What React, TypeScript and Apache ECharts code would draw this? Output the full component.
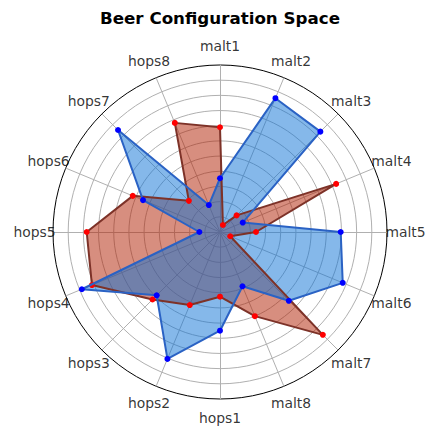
import React, { useEffect, useRef } from "react";
import * as echarts from "echarts";

const axisNames = [
  "malt1", "malt2", "malt3", "malt4", "malt5", "malt6", "malt7", "malt8",
  "hops1", "hops2", "hops3", "hops4", "hops5", "hops6", "hops7", "hops8",
];
const blueValues = [3.54, 9.54, 9.35, 1.62, 7.95, 8.75, 6.41, 3.87, 6.5, 9.05, 5.9, 9.85, 1.36, 5.49, 9.5, 1.92];
const redValues = [6.9, 0.5, 1.55, 8.28, 2.37, 0.73, 9.58, 6.0, 4.26, 5.21, 6.29, 9.13, 8.78, 6.22, 2.9, 7.78];
const radialMax = 11;
const labelRadius = 12.22;
const titleText = "Beer Configuration Space";

const FONT = "DejaVu Sans";

export default function App() {
  const ref = useRef<HTMLDivElement>(null);
  useEffect(() => {
    if (!ref.current) return;
    const chart = echarts.init(ref.current, undefined, { renderer: "svg" });
    // radar goes counter-clockwise: reorder so the data runs clockwise
    const order = [0, ...Array.from({ length: axisNames.length - 1 }, (_, k) => axisNames.length - 1 - k)];
    const gridColors = Array.from({ length: radialMax + 1 }, (_, i) => (i === radialMax ? "#000000" : "#b0b0b0"));
    const redData = order.map((i) => redValues[i]);
    const blueData = order.map((i) => blueValues[i]);
    chart.setOption({
      animation: false,
      title: {
        text: titleText,
        left: "center",
        top: 4,
        textStyle: { fontFamily: FONT, fontWeight: "bold", fontSize: 16.7, color: "#000" },
      },
      radar: {
        center: [220, 232],
        radius: 167,
        startAngle: 90,
        shape: "circle",
        splitNumber: radialMax,
        axisName: { show: false },
        axisLine: { lineStyle: { color: "#b0b0b0", width: 1 } },
        axisTick: { show: false },
        axisLabel: { show: false },
        splitLine: { lineStyle: { color: gridColors, width: 1 } },
        splitArea: { show: false },
        indicator: order.map((i) => ({ name: axisNames[i], min: 0, max: radialMax })),
      },
      polar: { center: [220, 232], radius: 167 },
      angleAxis: {
        type: "category",
        data: axisNames,
        boundaryGap: false,
        startAngle: 90,
        clockwise: true,
        show: false,
      },
      radiusAxis: { type: "value", min: 0, max: radialMax, show: false },
      series: [
        {
          type: "radar",
          symbol: "none",
          lineStyle: { width: 0, opacity: 0 },
          areaStyle: { color: "rgba(175,30,0,0.5)", opacity: 1 },
          data: [{ value: redData, name: "redArea" }],
          z: 2,
        },
        {
          type: "radar",
          symbol: "none",
          lineStyle: { width: 0, opacity: 0 },
          areaStyle: { color: "rgba(11,113,213,0.5)", opacity: 1 },
          data: [{ value: blueData, name: "blueArea" }],
          z: 3,
        },
        {
          type: "radar",
          symbol: "circle",
          symbolSize: 6,
          itemStyle: { color: "#ff0000" },
          lineStyle: { color: "#7d3228", width: 2 },
          data: [{ value: redData, name: "red" }],
          z: 4,
        },
        {
          type: "radar",
          symbol: "circle",
          symbolSize: 6,
          itemStyle: { color: "#0000ff" },
          lineStyle: { color: "#2a62c4", width: 2 },
          data: [{ value: blueData, name: "blue" }],
          z: 5,
        },
        {
          type: "scatter",
          coordinateSystem: "polar",
          clip: false,
          silent: true,
          symbolSize: 0,
          data: axisNames.map((n, i) => [labelRadius, i]),
          label: {
            show: true,
            position: "inside",
            formatter: (p: any) => axisNames[p.dataIndex],
            fontFamily: FONT,
            fontSize: 13.9,
            color: "#000",
          },
          z: 6,
        },
      ],
    });
    return () => chart.dispose();
  }, []);
  return (
    <div
      ref={ref}
      style={{ position: "fixed", left: 0, top: 0, width: 440, height: 440, background: "#fff" }}
    />
  );
}
